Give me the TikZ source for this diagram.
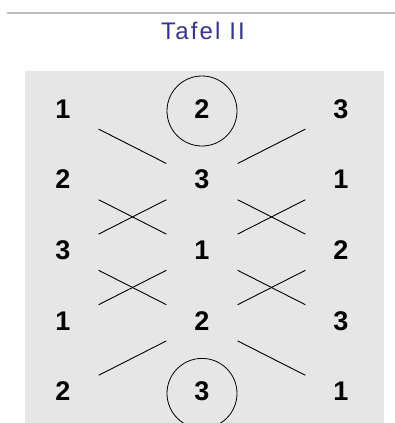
\documentclass[tikz,border=0pt]{standalone}
\usepackage{fontspec}
\setmainfont{Liberation Sans}
\usetikzlibrary{positioning}
\definecolor{tafelblue}{RGB}{51,51,153}
\definecolor{panelgray}{RGB}{230,230,230}

\begin{document}
\begin{tikzpicture}[
  x=1pt, y=1pt,
  node distance=70.6pt and 139pt, on grid,
  digit/.style={font=\fontsize{27}{27}\selectfont\bfseries, inner sep=0pt, text height=19.5pt, text depth=5pt},
  ring/.style={digit, draw, circle, minimum size=70pt, line width=0.8pt},
  link/.style={line width=0.9pt, shorten <=40pt, shorten >=40pt}
]
\useasboundingbox (0,0) rectangle (395,-423);
\draw[black!25, line width=1.5pt] (7,-13) -- (395,-13);
\node[font=\fontsize{24}{24}\selectfont\addfontfeature{LetterSpace=9}, text=tafelblue] (title) at (203,-31) {Tafel II};
\fill[panelgray] (25,-71) rectangle (384,-423);

% row 1
\node[digit] (l1) at (63,-111) {1};
\node[ring, right=of l1] (m1) {2};
\node[digit, right=of m1] (r1) {3};
% row 2
\node[digit, below=of l1] (l2) {2};
\node[digit, right=of l2] (m2) {3};
\node[digit, right=of m2] (r2) {1};
% row 3
\node[digit, below=of l2] (l3) {3};
\node[digit, right=of l3] (m3) {1};
\node[digit, right=of m3] (r3) {2};
% row 4
\node[digit, below=of l3] (l4) {1};
\node[digit, right=of l4] (m4) {2};
\node[digit, right=of m4] (r4) {3};
% row 5
\node[digit, below=of l4] (l5) {2};
\node[ring, right=of l5] (m5) {3};
\node[digit, right=of m5] (r5) {1};

\draw[link] (l1.center) -- (m2.center);
\draw[link] (m2.center) -- (r1.center);
\draw[link] (l2.center) -- (m3.center);
\draw[link] (l3.center) -- (m2.center);
\draw[link] (m2.center) -- (r3.center);
\draw[link] (m3.center) -- (r2.center);
\draw[link] (l3.center) -- (m4.center);
\draw[link] (l4.center) -- (m3.center);
\draw[link] (m3.center) -- (r4.center);
\draw[link] (m4.center) -- (r3.center);
\draw[link] (l5.center) -- (m4.center);
\draw[link] (m4.center) -- (r5.center);
\end{tikzpicture}
\end{document}
